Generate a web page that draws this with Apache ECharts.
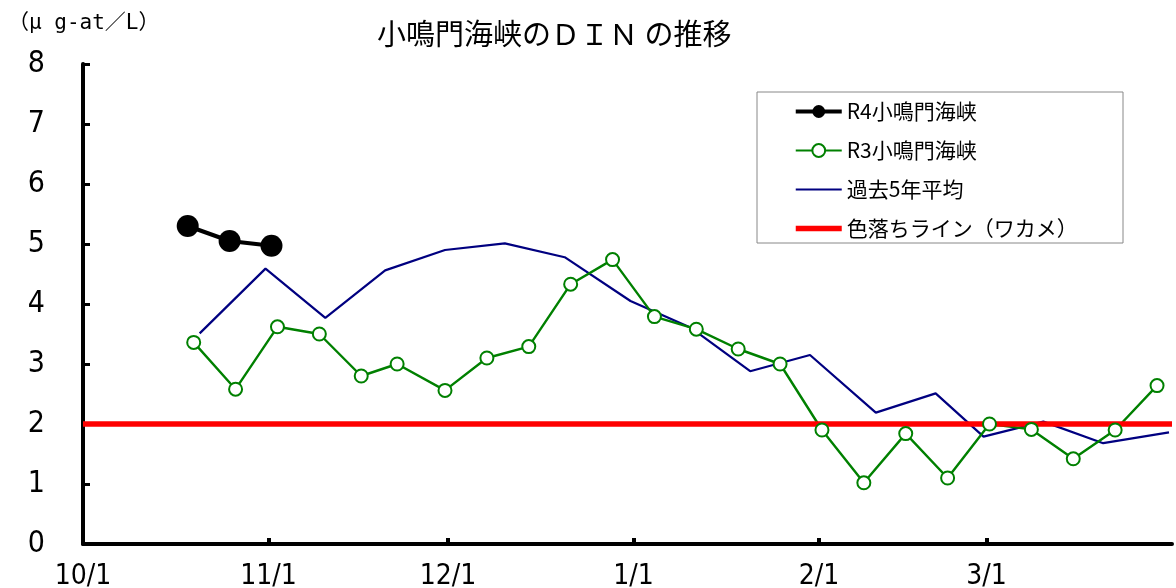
<!DOCTYPE html>
<html>
<head>
<meta charset="utf-8">
<script src="https://cdn.jsdelivr.net/npm/echarts@6/dist/echarts.min.js"></script>
<style>
  html, body { margin: 0; padding: 0; background: #fff; }
  #chart { width: 1176px; height: 588px; }
</style>
</head>
<body>
<div id="chart"></div>
<script>
// R4 (this season)
const r4Dates = ['10/18', '10/25', '11/1'];
const r4Values = [5.30, 5.05, 4.97];
// R3 (last season)
const r3Dates = ['10/19', '10/26', '11/2', '11/9', '11/16', '11/22', '11/30', '12/7', '12/14', '12/21', '12/28',
  '1/4', '1/11', '1/18', '1/25', '2/1', '2/8', '2/15', '2/22', '3/1', '3/8', '3/15', '3/22', '3/29'];
const r3Values = [3.36, 2.58, 3.62, 3.50, 2.80, 3.00, 2.56, 3.10, 3.29, 4.33, 4.74,
  3.79, 3.58, 3.25, 3.00, 1.90, 1.02, 1.84, 1.10, 2.00, 1.91, 1.42, 1.90, 2.64];
// past 5 year average
const avgDates = ['10/20', '10/31', '11/10', '11/20', '11/30', '12/10', '12/20', '12/31',
  '1/10', '1/20', '1/30', '2/10', '2/20', '2/28', '3/10', '3/20', '3/31'];
const avgValues = [3.51, 4.59, 3.77, 4.56, 4.90, 5.01, 4.78, 4.05,
  3.61, 2.88, 3.15, 2.19, 2.51, 1.79, 2.04, 1.68, 1.86];
// discolouration threshold
const thresholdValue = 2.0;
// x tick labels
const monthLabels = ['10/1', '11/1', '12/1', '1/1', '2/1', '3/1'];
const axisStartDate = '10/1';
const axisEndDate = '4/1';

function dayIndex(md) {
  const [m, d] = md.split('/').map(Number);
  const y = m >= 10 ? 2022 : 2023;
  return (Date.UTC(y, m - 1, d) - Date.UTC(2022, 9, 1)) / 86400000;
}
// each date sits in the middle of its day slot
const pts = (dates, vals) => dates.map((d, i) => [dayIndex(d) + 0.5, vals[i]]);

const xMin = dayIndex(axisStartDate);
const xMax = dayIndex(axisEndDate);
const monthPos = monthLabels.map(dayIndex);

const numFont = "'Liberation Sans Narrow', 'DejaVu Sans Condensed', 'Liberation Sans', sans-serif";
const jpFont = "'Noto Sans CJK JP', sans-serif";

const chart = echarts.init(document.getElementById('chart'));
chart.setOption({
  animation: false,
  backgroundColor: '#fff',
  title: {
    text: '小鳴門海峡のＤＩＮ の推移',
    left: 377,
    top: 19,
    padding: 0,
    textStyle: { fontFamily: jpFont, fontSize: 29, fontWeight: 'normal', color: '#000' }
  },
  graphic: [
    {
      type: 'text', left: 8, top: 13,
      style: { text: '（μ g-at／L）', font: "21px 'DejaVu Sans Mono', 'Noto Sans CJK JP'", fill: '#000' }
    },
    {
      type: 'rect', z: 3,
      shape: { x: 757, y: 92, width: 366, height: 151 },
      style: { fill: '#fff', stroke: '#888', lineWidth: 1 }
    }
  ],
  legend: {
    orient: 'vertical',
    left: 793,
    top: 101,
    padding: 0,
    itemWidth: 46,
    itemHeight: 16,
    itemGap: 18,
    z: 5,
    textStyle: { fontFamily: jpFont, fontSize: 21, lineHeight: 20, color: '#000' },
    data: [
      { name: 'R4小鳴門海峡', lineStyle: { width: 4 } },
      { name: 'R3小鳴門海峡', lineStyle: { width: 2 } },
      { name: '過去5年平均', lineStyle: { width: 2 }, itemStyle: { opacity: 0 } },
      { name: '色落ちライン（ワカメ）', lineStyle: { width: 5.5 }, itemStyle: { opacity: 0 } }
    ]
  },
  grid: { left: 83, right: 4, top: 64, bottom: 44, outerBoundsMode: 'none' },
  xAxis: [
    {
      type: 'value', min: xMin, max: xMax,
      axisLine: { lineStyle: { color: '#000', width: 4 } },
      axisTick: {
        inside: true, length: 6, customValues: monthPos.slice(1),
        lineStyle: { color: '#000', width: 4 }
      },
      axisLabel: {
        customValues: monthPos,
        formatter: v => monthLabels[monthPos.indexOf(v)] || '',
        fontFamily: numFont, fontSize: 28, color: '#000', margin: 19
      },
      splitLine: { show: false }
    },
    {
      type: 'value', position: 'top', min: xMin, max: xMax,
      axisLine: { show: true, lineStyle: { color: '#000', width: 2 } },
      axisTick: { show: false }, axisLabel: { show: false }, splitLine: { show: false }
    }
  ],
  yAxis: [
    {
      type: 'value', min: 0, max: 8, interval: 1,
      axisLine: { show: true, lineStyle: { color: '#000', width: 4 } },
      axisTick: { show: true, inside: true, length: 7, lineStyle: { color: '#000', width: 3 } },
      axisLabel: { fontFamily: numFont, fontSize: 30, color: '#000', margin: 38 },
      splitLine: { show: false }
    },
    {
      type: 'value', position: 'right', min: 0, max: 8,
      axisLine: { show: true, lineStyle: { color: '#000', width: 3 } },
      axisTick: { show: false }, axisLabel: { show: false }, splitLine: { show: false }
    }
  ],
  series: [
    {
      name: '過去5年平均', type: 'line', symbol: 'none',
      data: pts(avgDates, avgValues),
      lineStyle: { color: '#000080', width: 2.2 },
      itemStyle: { color: '#000080' }
    },
    {
      name: 'R3小鳴門海峡', type: 'line', symbol: 'circle', symbolSize: 13,
      data: pts(r3Dates, r3Values),
      lineStyle: { color: '#008000', width: 2.4 },
      itemStyle: { color: '#fff', borderColor: '#008000', borderWidth: 2 }
    },
    {
      name: 'R4小鳴門海峡', type: 'line', symbol: 'circle', symbolSize: 22,
      data: pts(r4Dates, r4Values),
      lineStyle: { color: '#000', width: 4 },
      itemStyle: { color: '#000' }
    },
    {
      name: '色落ちライン（ワカメ）', type: 'line', symbol: 'none',
      data: [[xMin, thresholdValue], [xMax, thresholdValue]],
      lineStyle: { color: '#ff0000', width: 5.5 },
      itemStyle: { color: '#ff0000' }
    }
  ]
});
</script>
</body>
</html>
